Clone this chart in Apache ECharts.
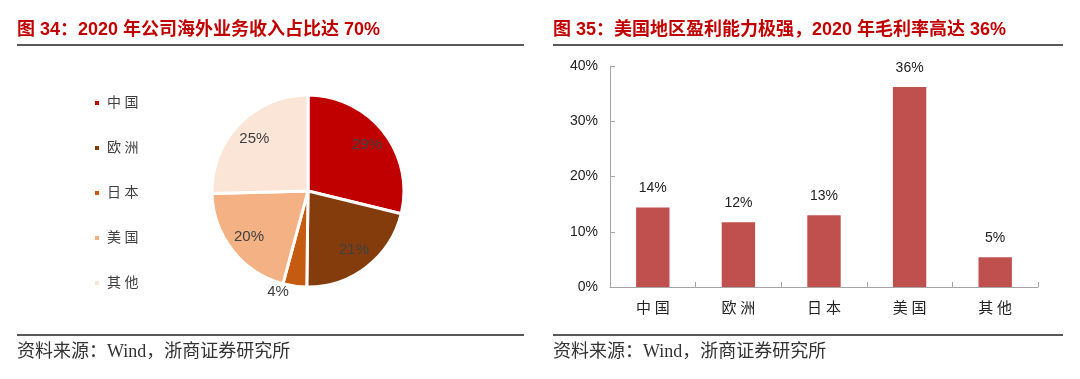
<!DOCTYPE html>
<html>
<head>
<meta charset="utf-8">
<script src="https://cdn.jsdelivr.net/npm/echarts@6/dist/echarts.min.js"></script>
<style>
html,body{margin:0;padding:0;background:#fff;}
#c{width:1080px;height:379px;}
</style>
</head>
<body>
<div id="c"></div>
<script>
// ---- data ----
var pieCategories = ['中国', '欧洲', '日本', '美国', '其他'];
var pieValues = [28.8, 21.4, 4.0, 20.4, 25.4];
var pieColors = ['#C00000', '#843C0C', '#C55A11', '#F4B183', '#FBE5D6'];

var barCategories = ['中国', '欧洲', '日本', '美国', '其他'];
var barValues = [14.4, 11.7, 13.0, 36.2, 5.4];
var barLabels = ['14%', '12%', '13%', '36%', '5%'];
var yTicks = [0, 10, 20, 30, 40];

var leftTitle = '图 34：2020 年公司海外业务收入占比达 70%';
var rightTitle = '图 35：美国地区盈利能力极强，2020 年毛利率高达 36%';
var sourceText = '资料来源：Wind，浙商证券研究所';

var serifCJK = '"Liberation Serif", "Noto Sans CJK SC", serif';
var sansCJK = '"Liberation Sans", Arial, "Noto Sans CJK SC", sans-serif';
function spaced(s){ return s.split('').join(' '); }

var chart = echarts.init(document.getElementById('c'), null, {renderer:'canvas'});

var pieData = pieCategories.map(function(n,i){
  return {name:n, value:pieValues[i], itemStyle:{color:pieColors[i]}};
});
var R = 96, CX = 308, CY = 191;
var pieLabelData = pieCategories.map(function(n,i){
  var d = {name:n, value:pieValues[i]};
  if (pieValues[i] < 8) {
    d.label = {position:'outside'};
    d.labelLine = {show:false, length:6, length2:0};
  }
  return d;
});

var option = {
  animation:false,
  legend:{
    orient:'vertical', left:93, top:96, padding:0, itemWidth:6, itemHeight:6, itemGap:31,
    icon:'rect', data:pieCategories,
    formatter:function(n){return spaced(n);},
    textStyle:{fontFamily:serifCJK, fontSize:14, lineHeight:14, color:'#404040', padding:[0,0,0,2]}
  },
  grid:{left:610, right:42, top:66, bottom:92},
  xAxis:{
    type:'category', data:barCategories,
    axisLine:{lineStyle:{color:'#A6A6A6', width:1}},
    axisTick:{show:true, inside:true, length:5, lineStyle:{color:'#A6A6A6'}},
    axisLabel:{fontFamily:serifCJK, fontSize:15, color:'#222', margin:15, formatter:function(v){return spaced(v);}}
  },
  yAxis:{
    type:'value', min:0, max:40, interval:10,
    axisLine:{show:true, lineStyle:{color:'#A6A6A6', width:1}},
    axisTick:{show:true, inside:true, length:5, lineStyle:{color:'#A6A6A6'}},
    splitLine:{show:false},
    axisLabel:{fontFamily:sansCJK, fontSize:14, color:'#222', margin:12, formatter:function(v){return v+'%';}}
  },
  series:[
    {
      type:'pie', center:[CX,CY], radius:[0,R], startAngle:90, clockwise:true,
      data:pieData, label:{show:false}, labelLine:{show:false},
      itemStyle:{borderColor:'#fff', borderWidth:3},
      emphasis:{disabled:true}, silent:true
    },
    {
      type:'pie', center:[CX,CY], radius:[R*0.5,R], startAngle:90, clockwise:true,
      data:pieLabelData,
      itemStyle:{color:'rgba(0,0,0,0)', borderWidth:0},
      label:{show:true, position:'inside', fontFamily:sansCJK, fontSize:15, color:'#404040',
        formatter:function(p){return Math.round(p.value)+'%';}},
      labelLine:{show:false},
      emphasis:{disabled:true}, silent:true
    },
    {
      type:'bar', data:barValues, barWidth:'39%',
      itemStyle:{color:'#C0504D'},
      label:{show:true, position:'top', distance:12, fontFamily:sansCJK, fontSize:14, color:'#222',
        formatter:function(p){return barLabels[p.dataIndex];}},
      emphasis:{disabled:true}, silent:true
    }
  ],
  graphic:[
    {type:'text', left:17, top:21, style:{text:leftTitle, fontFamily:sansCJK, fontWeight:'bold', fontSize:18, fill:'#C00000'}},
    {type:'text', left:553, top:21, style:{text:rightTitle, fontFamily:sansCJK, fontWeight:'bold', fontSize:18, fill:'#C00000'}},
    {type:'line', shape:{x1:17, y1:45, x2:524, y2:45}, style:{stroke:'#222', lineWidth:1.5}},
    {type:'line', shape:{x1:553, y1:45, x2:1063, y2:45}, style:{stroke:'#222', lineWidth:1.5}},
    {type:'line', shape:{x1:17, y1:335, x2:524, y2:335}, style:{stroke:'#222', lineWidth:1.5}},
    {type:'line', shape:{x1:553, y1:335, x2:1063, y2:335}, style:{stroke:'#222', lineWidth:1.5}},
    {type:'text', left:17, top:343, style:{text:sourceText, fontFamily:serifCJK, fontSize:18, fill:'#333'}},
    {type:'text', left:553, top:343, style:{text:sourceText, fontFamily:serifCJK, fontSize:18, fill:'#333'}}
  ]
};
chart.setOption(option);
</script>
</body>
</html>
